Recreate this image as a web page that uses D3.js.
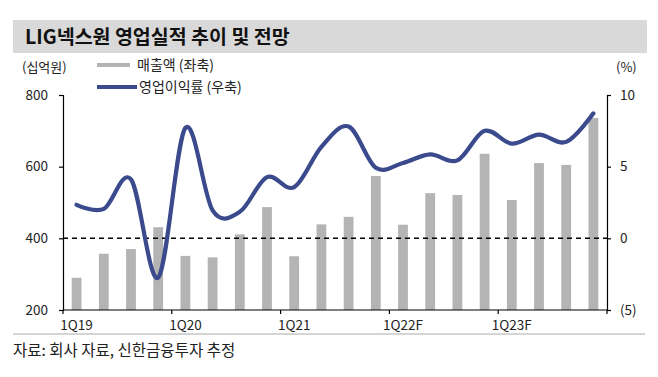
<!DOCTYPE html>
<html>
<head>
<meta charset="utf-8">
<script src="https://cdn.jsdelivr.net/npm/d3@7"></script>
<style>
  body { margin: 0; background: #fff; }
  svg { display: block; font-family: "Noto Sans CJK KR", "Noto Sans", sans-serif; }
</style>
</head>
<body>
<svg id="chart"></svg>
<script>
const width = 658;
const height = 377;

const quarters = ["1Q19","2Q19","3Q19","4Q19","1Q20","2Q20","3Q20","4Q20","1Q21","2Q21","3Q21","4Q21",
  "1Q22F","2Q22F","3Q22F","4Q22F","1Q23F","2Q23F","3Q23F","4Q23F"];
const sales = [290, 357, 370, 431, 351, 347, 411, 487, 350, 439, 460, 574, 438, 526, 521, 636, 507, 610, 605, 736];
const margin = [2.34, 2.05, 4.11, -2.73, 7.71, 1.95, 1.85, 4.27, 3.57, 6.38, 7.8, 4.93, 5.26, 5.86, 5.44, 7.5, 6.61, 7.24, 6.73, 8.72];
const leftTicks = [200, 400, 600, 800];
const rightTicks = [-5, 0, 5, 10];
const xLabels = ["1Q19", "1Q20", "1Q21", "1Q22F", "1Q23F"];

const svg = d3.select("#chart").attr("width", width).attr("height", height);

// title bar
svg.append("rect").attr("x", 13).attr("y", 20).attr("width", 634).attr("height", 33).attr("fill", "#d9d9d9");
svg.append("text").attr("x", 25).attr("y", 44).attr("font-size", 19.5).attr("font-weight", "bold")
  .attr("fill", "#111").text("LIG넥스원 영업실적 추이 및 전망");

const x = d3.scaleBand().domain(quarters).range([63, 607]).paddingInner(0.64).paddingOuter(0.32);
const yL = d3.scaleLinear().domain([200, 800]).range([310, 95]);
const yR = d3.scaleLinear().domain([-5, 10]).range([310, 95]);

// bars
svg.selectAll(".bar").data(sales).enter().append("rect")
  .attr("class", "bar")
  .attr("x", (d, i) => x(quarters[i]))
  .attr("width", x.bandwidth())
  .attr("y", (d) => yL(d))
  .attr("height", (d) => yL(200) - yL(d))
  .attr("fill", "#b4b4b4");

// zero line
svg.append("line").attr("x1", 63).attr("x2", 607).attr("y1", yR(0)).attr("y2", yR(0))
  .attr("stroke", "#000").attr("stroke-width", 1.5).attr("stroke-dasharray", "5,4");

// margin line
const line = d3.line()
  .x((d, i) => x(quarters[i]) + x.bandwidth() / 2)
  .y((d) => yR(d))
  .curve(d3.curveCardinal.tension(0));
svg.append("path").datum(margin).attr("d", line)
  .attr("fill", "none").attr("stroke", "#3a4a8c").attr("stroke-width", 4.2).attr("stroke-linecap", "round");

// axes
const fmtR = (d) => d < 0 ? `(${-d})` : d;
const gL = svg.append("g").attr("transform", "translate(63,0)")
  .call(d3.axisLeft(yL).tickValues(leftTicks).tickSize(4).tickPadding(11));
const gR = svg.append("g").attr("transform", "translate(607,0)")
  .call(d3.axisRight(yR).tickValues(rightTicks).tickSize(4).tickPadding(9).tickFormat(fmtR));

const tickPos = d3.range(0, 21, 4).map((i) => 63 + i * (544 / 20));
const gB = svg.append("g").attr("transform", "translate(0,310)");
gB.append("line").attr("x1", 63).attr("x2", 607).attr("stroke", "#000").attr("stroke-width", 1.2);
gB.selectAll(".tk").data(tickPos).enter().append("line")
  .attr("x1", (d) => d).attr("x2", (d) => d).attr("y1", 0).attr("y2", 4)
  .attr("stroke", "#000").attr("stroke-width", 1.2);
gB.selectAll(".lb").data(xLabels).enter().append("text")
  .attr("x", (d) => x(d) + x.bandwidth() / 2).attr("y", 20)
  .attr("text-anchor", "middle").attr("font-size", 13.5).attr("fill", "#222").text((d) => d);

[gL, gR].forEach((g) => {
  g.select(".domain").attr("stroke", "#000").attr("stroke-width", 1.2);
  g.selectAll(".tick line").attr("stroke", "#000").attr("stroke-width", 1.2);
  g.selectAll(".tick text").attr("font-size", 13.5).attr("fill", "#222").attr("font-family", "Noto Sans CJK KR");
});

// unit labels
svg.append("text").attr("x", 22).attr("y", 72).attr("font-size", 13).attr("fill", "#222").text("(십억원)");
svg.append("text").attr("x", 616).attr("y", 72).attr("font-size", 13).attr("fill", "#222").text("(%)");

// legend
svg.append("line").attr("x1", 97).attr("x2", 130).attr("y1", 65).attr("y2", 65)
  .attr("stroke", "#b4b4b4").attr("stroke-width", 4);
svg.append("text").attr("x", 137).attr("y", 70).attr("font-size", 14).attr("fill", "#222").text("매출액 (좌축)");
svg.append("line").attr("x1", 97).attr("x2", 137).attr("y1", 87).attr("y2", 87)
  .attr("stroke", "#3a4a8c").attr("stroke-width", 4);
svg.append("text").attr("x", 139).attr("y", 92).attr("font-size", 14).attr("fill", "#222").text("영업이익률 (우축)");

// source
svg.append("line").attr("x1", 13).attr("x2", 645).attr("y1", 334).attr("y2", 334)
  .attr("stroke", "#aaa").attr("stroke-width", 1);
svg.append("text").attr("x", 13).attr("y", 356).attr("font-size", 15.5).attr("fill", "#222")
  .text("자료: 회사 자료, 신한금융투자 추정");
</script>
</body>
</html>
